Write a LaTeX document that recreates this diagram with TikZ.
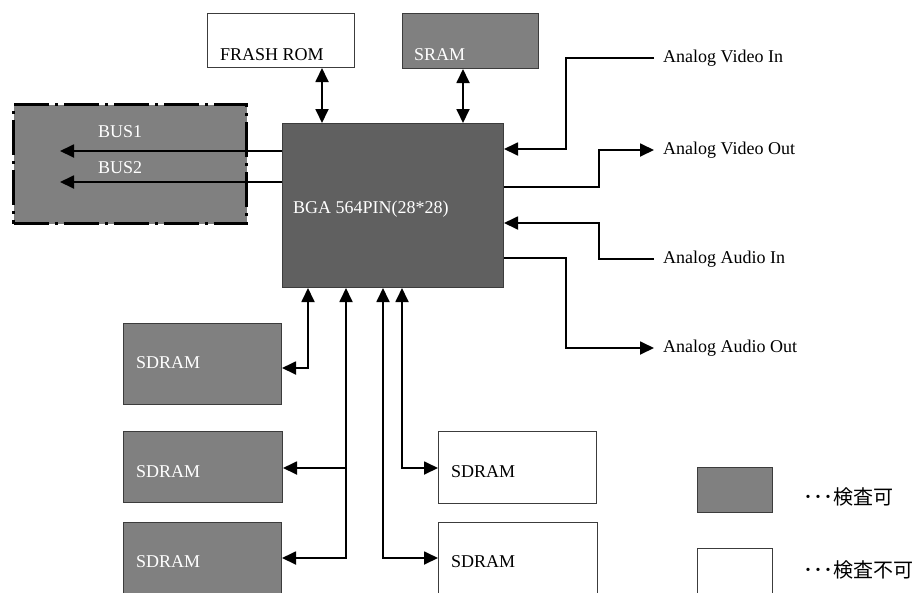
\documentclass[tikz,border=0pt]{standalone}
\usepackage{fontspec}
\setmainfont{Liberation Serif}
\newfontfamily\cjk{Noto Sans CJK JP}
\usetikzlibrary{arrows.meta}
\definecolor{chkgray}{RGB}{128,128,128}
\definecolor{bgagray}{RGB}{96,96,96}
\definecolor{edgegray}{RGB}{60,60,60}

\begin{document}
\begin{tikzpicture}[x=1pt, y=-1pt,
    box/.style={draw=edgegray, line width=1pt, anchor=north west, inner sep=0pt},
    okbox/.style={box, fill=chkgray},
    ngbox/.style={box, fill=white},
    lbl/.style={anchor=base west, inner sep=0pt, font=\fontsize{18}{20}\selectfont},
    wlbl/.style={lbl, text=white},
    sig/.style={anchor=west, inner xsep=9pt, font=\fontsize{18}{20}\selectfont},
    key/.style={anchor=west, inner sep=0pt, font=\cjk\fontsize{20}{22}\selectfont},
    arr/.style={-{Triangle[length=14pt, width=13pt]}, line width=1.8pt},
    dbl/.style={{Triangle[length=14pt, width=13pt]}-{Triangle[length=14pt, width=13pt]}, line width=1.8pt}]
    \useasboundingbox (0,0) rectangle (918,592);
    \clip (0,0) rectangle (918,592);

    % memories on top
    \node[ngbox, minimum width=147pt, minimum height=54pt] (rom) at (207,13) {};
    \node[lbl] (romtxt) at (220,60) {FRASH ROM};
    \node[okbox, minimum width=136pt, minimum height=55pt] (sram) at (402,13) {};
    \node[wlbl] (sramtxt) at (414,60) {SRAM};

    % bus area
    \node[box, fill=chkgray, draw=black, line width=3pt, dash pattern=on 35pt off 6pt on 3pt off 6pt,
          minimum width=233pt, minimum height=119pt] (bus) at (12,103) {};
    \node[wlbl] (bus1txt) at (98,137) {BUS1};
    \node[wlbl] (bus2txt) at (98,173) {BUS2};
    \coordinate (bus1end) at (60,151);
    \coordinate (bus2end) at (60,182);

    % main chip
    \node[box, fill=bgagray, minimum width=221pt, minimum height=164pt] (bga) at (282,123) {};
    \node[wlbl] (bgatxt) at (293,213) {BGA 564PIN(28*28)};

    % sdram
    \node[okbox, minimum width=158pt, minimum height=81pt] (sd1) at (123,323) {};
    \node[wlbl] (sd1txt) at (136,368) {SDRAM};
    \node[okbox, minimum width=159pt, minimum height=71pt] (sd2) at (123,431) {};
    \node[wlbl] (sd2txt) at (136,477) {SDRAM};
    \node[okbox, minimum width=158pt, minimum height=80pt] (sd3) at (123,522) {};
    \node[wlbl] (sd3txt) at (136,567) {SDRAM};
    \node[ngbox, minimum width=158pt, minimum height=72pt] (sd4) at (438,431) {};
    \node[lbl] (sd4txt) at (451,477) {SDRAM};
    \node[ngbox, minimum width=159pt, minimum height=80pt] (sd5) at (438,522) {};
    \node[lbl] (sd5txt) at (451,567) {SDRAM};

    % analog signals
    \node[sig] (vin) at (654,58) {Analog Video In};
    \node[sig] (vout) at (654,150) {Analog Video Out};
    \node[sig] (ain) at (654,259) {Analog Audio In};
    \node[sig] (aout) at (654,348) {Analog Audio Out};

    % legend
    \node[okbox, minimum width=75pt, minimum height=45pt] (keyok) at (697,467) {};
    \node[ngbox, minimum width=75pt, minimum height=46pt] (keyng) at (697,548) {};
    \node[key] (keyoktxt) at (803,497) {･･･検査可};
    \node[key] (keyngtxt) at (803,570) {･･･検査不可};

    % connections
    \draw[dbl] (322,0 |- rom.south) -- (322,0 |- bga.north);
    \draw[dbl] (463,0 |- sram.south) -- (463,0 |- bga.north);
    \draw[arr] (bga.west |- bus1end) -- (bus1end);
    \draw[arr] (bga.west |- bus2end) -- (bus2end);

    \draw[arr] (vin.west) -| (566,149) -- (bga.east |- 0,149);
    \draw[arr] (bga.east |- 0,187) -| (599,150) -- (vout.west);
    \draw[arr] (ain.west) -| (599,223) -- (bga.east |- 0,223);
    \draw[arr] (bga.east |- 0,258) -| (566,348) -- (aout.west);

    \draw[dbl] (308,0 |- bga.south) |- ([yshift=-4pt]sd1.east);
    \draw[dbl] (346,0 |- bga.south) |- (sd3.east |- 0,558);
    \draw[arr] (346,468) -- (sd2.east |- 0,468);
    \draw[dbl] (383,0 |- bga.south) |- (sd5.west |- 0,558);
    \draw[dbl] (402,0 |- bga.south) |- (sd4.west |- 0,468);
\end{tikzpicture}
\end{document}
